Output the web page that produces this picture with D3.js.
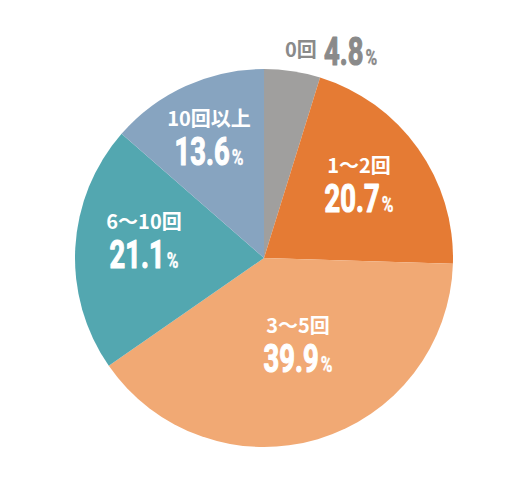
<!DOCTYPE html>
<html>
<head>
<meta charset="utf-8">
<script src="https://cdn.jsdelivr.net/npm/d3@7"></script>
<style>
  body { margin: 0; background: #fff; }
  svg { display: block; }
  .cat { font-family: "Noto Sans CJK JP", "Noto Sans", sans-serif; font-weight: 700; }
  .num { font-family: Roboto, "Noto Sans", sans-serif; font-weight: 700; }
</style>
</head>
<body>
<div id="chart"></div>
<script>
var categories = ["0回", "1〜2回", "3〜5回", "6〜10回", "10回以上"];
var values = [4.8, 20.7, 39.9, 21.1, 13.6];
var colors = ["#a09f9e", "#e57b34", "#f1a974", "#53a7b0", "#87a4c0"];

var width = 526, height = 482;
var cx = 264, cy = 258, radius = 189;

var svg = d3.select("#chart").append("svg")
    .attr("width", width)
    .attr("height", height);

var pie = d3.pie().sort(null).value(function(d) { return d; });
var arc = d3.arc().innerRadius(0).outerRadius(radius);

var arcs = pie(values);

var g = svg.append("g").attr("transform", "translate(" + cx + "," + cy + ")");

g.selectAll("path")
    .data(arcs)
    .enter().append("path")
    .attr("d", arc)
    .attr("fill", function(d, i) { return colors[i]; });

// condensed number: Roboto squeezed horizontally, a bit heavier via stroke
function addNumber(parent, v, fill, anchor) {
    var ng = parent.append("g").attr("transform", "scale(0.72,1)");
    var t = ng.append("text")
        .attr("class", "num")
        .attr("text-anchor", anchor)
        .attr("fill", fill)
        .attr("stroke", fill)
        .attr("stroke-width", 1.2)
        .attr("stroke-linejoin", "round");
    t.append("tspan").attr("font-size", 38).text(v.toFixed(1));
    t.append("tspan").attr("font-size", 22).attr("dx", 3).attr("stroke-width", 0.4).text("%");
    return ng;
}

// label positions (number baseline) relative to centre
var labelPos = [
    null,
    [95, -46],
    [34, 114],
    [-120, 10],
    [-55, -93]
];

arcs.forEach(function(d, i) {
    if (i === 0) return;
    var p = labelPos[i];
    var lg = g.append("g").attr("transform", "translate(" + p[0] + "," + p[1] + ")");
    lg.append("text")
        .attr("class", "cat")
        .attr("text-anchor", "middle")
        .attr("y", -39)
        .attr("font-size", 20)
        .attr("fill", "#fff")
        .text(categories[i]);
    addNumber(lg, values[i], "#fff", "middle");
});

// outside label for the grey slice
var og = svg.append("g").attr("transform", "translate(285,65)");
og.append("text")
    .attr("class", "cat")
    .attr("font-size", 20)
    .attr("fill", "#8a8a8a")
    .attr("y", -8)
    .text(categories[0]);
var on = og.append("g").attr("transform", "translate(39,0)");
addNumber(on, values[0], "#8a8a8a", "start");
</script>
</body>
</html>
